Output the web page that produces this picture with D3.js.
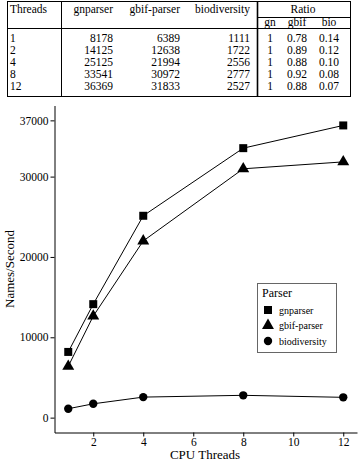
<!DOCTYPE html>
<html>
<head>
<meta charset="utf-8">
<script src="https://cdn.jsdelivr.net/npm/d3@7"></script>
<style>
  body { margin: 0; background: #fff; }
  svg text { font-family: 'Liberation Serif', 'Times New Roman', 'DejaVu Serif', serif; fill: #000; }
</style>
</head>
<body>
<svg id="chart" width="358" height="460" font-family="Liberation Serif"></svg>
<script>
// data
const threads = [1, 2, 4, 8, 12];
const gnparser = [8178, 14125, 25125, 33541, 36369];
const gbifParser = [6389, 12638, 21994, 30972, 31833];
const biodiversity = [1111, 1722, 2556, 2777, 2527];
const ratioGn = ["1", "1", "1", "1", "1"];
const ratioGbif = ["0.78", "0.89", "0.88", "0.92", "0.88"];
const ratioBio = ["0.14", "0.12", "0.10", "0.08", "0.07"];
const yTicks = [0, 10000, 20000, 30000, 37000];
const xTicks = [2, 4, 6, 8, 10, 12];
const seriesNames = ["gnparser", "gbif-parser", "biodiversity"];

const serif = "'Liberation Serif', 'Times New Roman', 'DejaVu Serif', serif";
const svg = d3.select("#chart");

// ---- table on top ----
const tbl = svg.append("g").attr("class", "table");
const tx0 = 7, tx1 = 350, ty0 = 1.5, ty1 = 96.5;

tbl.append("rect")
  .attr("x", tx0 + 0.5).attr("y", ty0)
  .attr("width", tx1 - tx0).attr("height", ty1 - ty0)
  .attr("fill", "none").attr("stroke", "#000");

// column separators
tbl.append("line").attr("x1", 61.5).attr("x2", 61.5).attr("y1", ty0).attr("y2", ty1).attr("stroke", "#000");
tbl.append("line").attr("x1", 257.5).attr("x2", 257.5).attr("y1", ty0).attr("y2", ty1).attr("stroke", "#000").attr("stroke-width", 1.6);
// cline under Ratio, rule under header
tbl.append("line").attr("x1", 257.5).attr("x2", tx1 + 0.5).attr("y1", 17.5).attr("y2", 17.5).attr("stroke", "#000");
tbl.append("line").attr("x1", tx0 + 0.5).attr("x2", tx1 + 0.5).attr("y1", 28.5).attr("y2", 28.5).attr("stroke", "#000");

const fs = "11.5px";
function cell(x, y, txt, anchor) {
  tbl.append("text").attr("x", x).attr("y", y)
    .attr("text-anchor", anchor)
    .style("font-family", serif).style("font-size", fs).text(txt);
}

// header
cell(10, 13, "Threads", "start");
cell(113, 13, "gnparser", "end");
cell(180, 13, "gbif-parser", "end");
cell(250, 13, "biodiversity", "end");
cell(303, 13, "Ratio", "middle");
cell(270, 26, "gn", "middle");
cell(297, 26, "gbif", "middle");
cell(329, 26, "bio", "middle");

const rowY = d3.scaleLinear().domain([0, 4]).range([42, 90]);
threads.forEach((t, i) => {
  const y = rowY(i);
  cell(10, y, String(t), "start");
  cell(113, y, String(gnparser[i]), "end");
  cell(180, y, String(gbifParser[i]), "end");
  cell(250, y, String(biodiversity[i]), "end");
  cell(270, y, ratioGn[i], "middle");
  cell(297, y, ratioGbif[i], "middle");
  cell(329, y, ratioBio[i], "middle");
});

// ---- line chart ----
const x = d3.scaleLinear().domain([0.45, 12.55]).range([54.5, 357]);
const y = d3.scaleLinear().domain([-1850, 38850]).range([432.5, 105.5]);

const xAxis = svg.append("g")
  .attr("transform", "translate(0,432.5)")
  .call(d3.axisBottom(x).tickValues(xTicks).tickSize(4).tickSizeOuter(0).tickPadding(1));
const yAxis = svg.append("g")
  .attr("transform", "translate(54.5,0)")
  .call(d3.axisLeft(y).tickValues(yTicks).tickFormat(d3.format("d")).tickSize(4).tickSizeOuter(0).tickPadding(2));

[xAxis, yAxis].forEach(a => {
  a.attr("font-family", serif);
  a.selectAll("text").style("font-size", "11.5px").style("font-family", serif);
  a.selectAll("line, path").attr("stroke", "#000");
});

const series = [gnparser, gbifParser, biodiversity];
const shapes = [d3.symbolSquare, d3.symbolTriangle, d3.symbolCircle];
const sizes = [64, 62, 55];

const line = d3.line().x((d, i) => x(threads[i])).y(d => y(d));

series.forEach((vals, s) => {
  svg.append("path")
    .datum(vals)
    .attr("d", line)
    .attr("fill", "none")
    .attr("stroke", "#000")
    .attr("stroke-width", 1);

  svg.selectAll(".pt" + s)
    .data(vals)
    .enter()
    .append("path")
    .attr("class", "pt" + s)
    .attr("transform", (d, i) => "translate(" + x(threads[i]) + "," + y(d) + ")")
    .attr("d", d3.symbol().type(shapes[s]).size(sizes[s]))
    .attr("fill", "#000");
});

// axis titles
svg.append("text")
  .attr("x", 205).attr("y", 458.5)
  .attr("text-anchor", "middle")
  .style("font-family", serif)
  .style("font-size", "13px")
  .text("CPU Threads");

svg.append("text")
  .attr("transform", "translate(14,269) rotate(-90)")
  .attr("text-anchor", "middle")
  .style("font-family", serif)
  .style("font-size", "13px")
  .text("Names/Second");

// legend
const lg = svg.append("g").attr("class", "legend");
lg.append("rect")
  .attr("x", 257.5).attr("y", 283.5)
  .attr("width", 79).attr("height", 69)
  .attr("fill", "#fff").attr("stroke", "#666");
lg.append("text")
  .attr("x", 262).attr("y", 297)
  .style("font-family", serif)
  .style("font-size", "12px")
  .text("Parser");

seriesNames.forEach((name, s) => {
  const cy = 310 + s * 15.5;
  lg.append("path")
    .attr("transform", "translate(268," + cy + ")")
    .attr("d", d3.symbol().type(shapes[s]).size(sizes[s]))
    .attr("fill", "#000");
  lg.append("text")
    .attr("x", 279).attr("y", cy + 3.5)
    .style("font-family", serif)
    .style("font-size", "10px")
    .text(name);
});
</script>
</body>
</html>
